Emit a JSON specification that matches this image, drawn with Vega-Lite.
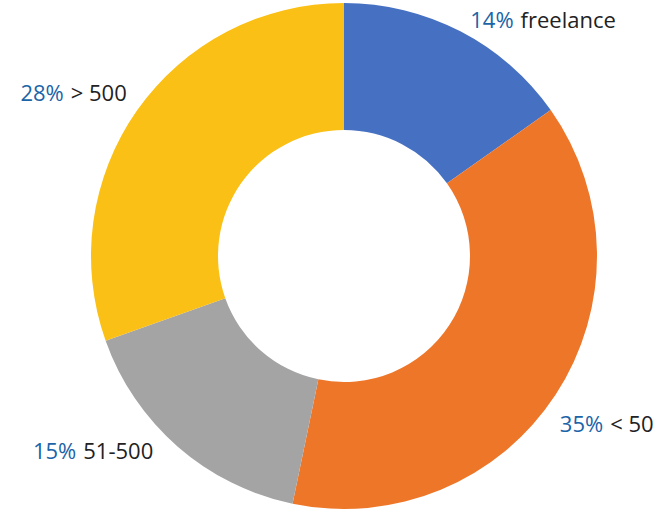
{
  "$schema": "https://vega.github.io/schema/vega-lite/v6.json",
  "width": 640,
  "height": 512,
  "padding": {"left": 24, "right": 0, "top": 0, "bottom": 0},
  "autosize": {"type": "none"},
  "background": "white",
  "view": {"stroke": null},
  "data": {
    "values": [
      {"cat": "freelance", "v": 14, "pct": "14%", "k": 1},
      {"cat": "< 50", "v": 35, "pct": "35%", "k": 2},
      {"cat": "51-500", "v": 15, "pct": "15%", "k": 3},
      {"cat": "> 500", "v": 28, "pct": "28%", "k": 4}
    ]
  },
  "encoding": {
    "theta": {"field": "v", "type": "quantitative", "stack": true},
    "order": {"field": "k", "type": "quantitative"}
  },
  "layer": [
    {
      "mark": {"type": "arc", "outerRadius": 253, "innerRadius": 126, "stroke": null},
      "encoding": {
        "color": {
          "field": "cat", "type": "nominal", "legend": null,
          "scale": {"domain": ["freelance", "< 50", "51-500", "> 500"], "range": ["#4671C2", "#EE7629", "#A4A4A4", "#FAC015"]}
        }
      }
    },
    {
      "mark": {"type": "text", "radius": 310, "align": "right", "baseline": "middle", "font": "Open Sans", "fontSize": 22, "color": "#1C64A8", "dx": 27, "dy": 40},
      "encoding": {"text": {"condition": {"test": "datum.cat === 'freelance'", "field": "pct"}, "value": ""}}
    },
    {
      "mark": {"type": "text", "radius": 310, "align": "left", "baseline": "middle", "font": "Open Sans", "fontSize": 22, "color": "#222222", "dx": 34, "dy": 40},
      "encoding": {"text": {"condition": {"test": "datum.cat === 'freelance'", "field": "cat"}, "value": ""}}
    },
    {
      "mark": {"type": "text", "radius": 310, "align": "right", "baseline": "middle", "font": "Open Sans", "fontSize": 22, "color": "#1C64A8", "dx": 0, "dy": -1},
      "encoding": {"text": {"condition": {"test": "datum.cat === '< 50'", "field": "pct"}, "value": ""}}
    },
    {
      "mark": {"type": "text", "radius": 310, "align": "left", "baseline": "middle", "font": "Open Sans", "fontSize": 22, "color": "#222222", "dx": 7, "dy": -1},
      "encoding": {"text": {"condition": {"test": "datum.cat === '< 50'", "field": "cat"}, "value": ""}}
    },
    {
      "mark": {"type": "text", "radius": 310, "align": "right", "baseline": "middle", "font": "Open Sans", "fontSize": 22, "color": "#1C64A8", "dx": -64, "dy": -38},
      "encoding": {"text": {"condition": {"test": "datum.cat === '51-500'", "field": "pct"}, "value": ""}}
    },
    {
      "mark": {"type": "text", "radius": 310, "align": "left", "baseline": "middle", "font": "Open Sans", "fontSize": 22, "color": "#222222", "dx": -57, "dy": -38},
      "encoding": {"text": {"condition": {"test": "datum.cat === '51-500'", "field": "cat"}, "value": ""}}
    },
    {
      "mark": {"type": "text", "radius": 310, "align": "right", "baseline": "middle", "font": "Open Sans", "fontSize": 22, "color": "#1C64A8", "dx": -27, "dy": 17},
      "encoding": {"text": {"condition": {"test": "datum.cat === '> 500'", "field": "pct"}, "value": ""}}
    },
    {
      "mark": {"type": "text", "radius": 310, "align": "left", "baseline": "middle", "font": "Open Sans", "fontSize": 22, "color": "#222222", "dx": -20, "dy": 17},
      "encoding": {"text": {"condition": {"test": "datum.cat === '> 500'", "field": "cat"}, "value": ""}}
    }
  ]
}
